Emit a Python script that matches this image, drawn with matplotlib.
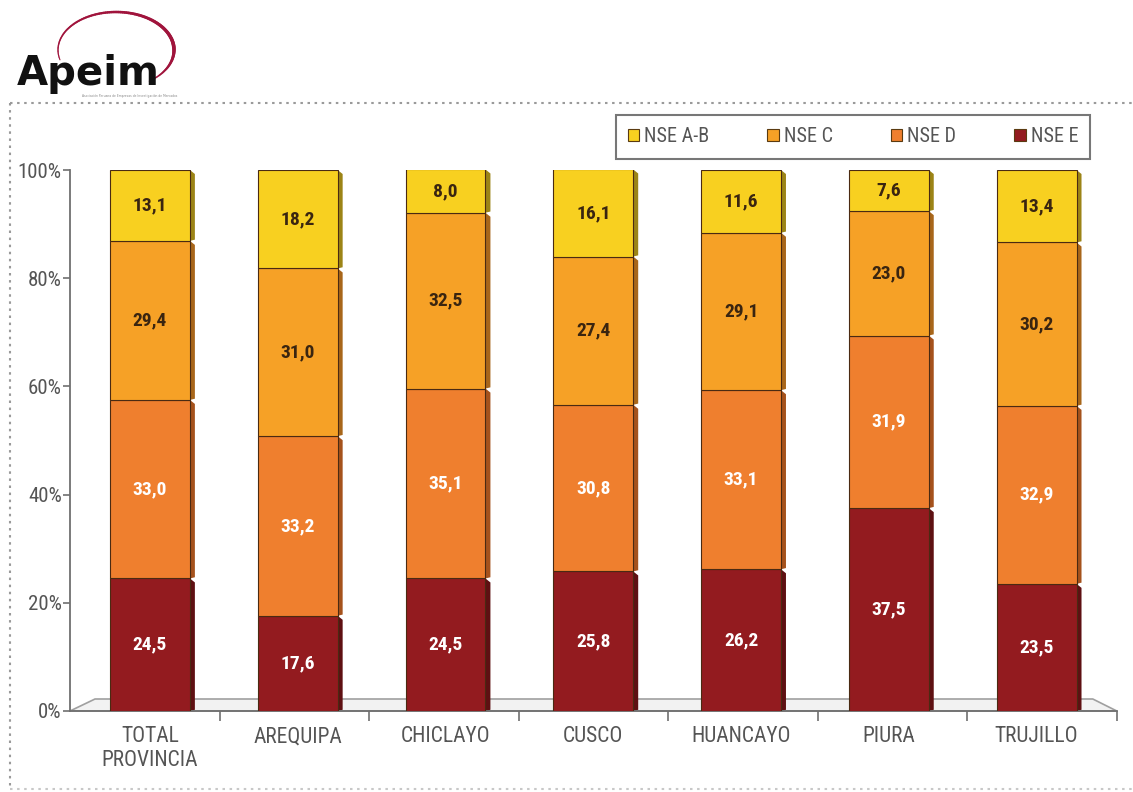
import matplotlib
matplotlib.use("Agg")
import matplotlib.pyplot as plt
from matplotlib import font_manager as fm
from matplotlib.patches import Polygon, Patch
import numpy as np

categories = ["TOTAL\nPROVINCIA", "AREQUIPA", "CHICLAYO", "CUSCO", "HUANCAYO", "PIURA", "TRUJILLO"]
series_names = ["NSE A-B", "NSE C", "NSE D", "NSE E"]
nse_ab = [13.1, 18.2, 8.0, 16.1, 11.6, 7.6, 13.4]
nse_c = [29.4, 31.0, 32.5, 27.4, 29.1, 23.0, 30.2]
nse_d = [33.0, 33.2, 35.1, 30.8, 33.1, 31.9, 32.9]
nse_e = [24.5, 17.6, 24.5, 25.8, 26.2, 37.5, 23.5]
yticks = [0, 20, 40, 60, 80, 100]
ytick_labels = ["0%", "20%", "40%", "60%", "80%", "100%"]

names = {f.name for f in fm.fontManager.ttflist}
narrow = None
for cand in ["Liberation Sans Narrow", "Roboto Condensed", "DejaVu Sans Condensed", "Liberation Sans"]:
    if cand in names:
        narrow = cand
        break
if narrow is None:
    narrow = "DejaVu Sans"
plt.rcParams["font.family"] = [narrow, "DejaVu Sans"]

W, H = 1133, 792
fig = plt.figure(figsize=(W / 100, H / 100), dpi=100)
fig.patch.set_facecolor("white")

# axes placement in pixel terms
x0_px, x1_px = 70, 1117
y0_px, y1_px = 711, 170
ax = fig.add_axes([x0_px / W, 1 - y0_px / H, (x1_px - x0_px) / W, (y0_px - y1_px) / H])
ax.set_facecolor("none")

spacing_px = 147.8
c0_px = 150
xlim_left = -(c0_px - x0_px) / spacing_px
xlim_right = (x1_px - c0_px) / spacing_px
ax.set_xlim(xlim_left, xlim_right)
ax.set_ylim(0, 100)

x = np.arange(len(categories))
width = 0.54

colors = {"NSE A-B": "#F8D020", "NSE C": "#F6A126", "NSE D": "#EF7F2E", "NSE E": "#931B1F"}
side_colors = {"NSE A-B": "#9C8416", "NSE C": "#A8661A", "NSE D": "#A5521C", "NSE E": "#5E1012"}
text_colors = {"NSE A-B": "#3A2510", "NSE C": "#3A2510", "NSE D": "white", "NSE E": "white"}
order = [("NSE E", nse_e), ("NSE D", nse_d), ("NSE C", nse_c), ("NSE A-B", nse_ab)]

# floor (3D base)
px_x = (xlim_right - xlim_left) / (x1_px - x0_px)  # data per px (x)
px_y = 100 / (y0_px - y1_px)  # data per px (y)
floor = Polygon([(xlim_left, 0), (xlim_left + 25 * px_x, 12 * px_y),
                 (xlim_right - 24 * px_x, 12 * px_y), (xlim_right, 0)],
                closed=True, facecolor="#F2F2F2", edgecolor="#A0A0A0", lw=1.2,
                zorder=1, clip_on=False)
ax.add_patch(floor)

dx = 5 * px_x
dy = 4 * px_y
bottoms = np.zeros(len(categories))
for name, vals in order:
    vals = np.array(vals)
    ax.bar(x, vals, width, bottom=bottoms, color=colors[name], edgecolor="#4A2A12",
           linewidth=0.8, zorder=3)
    for i in range(len(x)):
        xr = x[i] + width / 2
        b = bottoms[i]
        t = b + vals[i]
        side = Polygon([(xr, b), (xr + dx, b + dy * 0.3), (xr + dx, t - dy), (xr, t)],
                       closed=True, facecolor=side_colors[name], edgecolor="none", zorder=2)
        ax.add_patch(side)
        ax.text(x[i], b + vals[i] / 2, f"{vals[i]:.1f}".replace(".", ","),
                ha="center", va="center", fontsize=14, fontweight="bold",
                color=text_colors[name], zorder=4)
    bottoms = bottoms + vals

# axes styling
for s in ["top", "right"]:
    ax.spines[s].set_visible(False)
ax.spines["left"].set_color("#707070")
ax.spines["bottom"].set_color("#707070")
ax.spines["left"].set_linewidth(1.3)
ax.spines["bottom"].set_linewidth(1.3)
ax.set_yticks(yticks)
ax.set_yticklabels(ytick_labels, fontsize=15, color="#555555")
ax.tick_params(axis="y", length=5, color="#707070", width=1.2, pad=1)
ax.set_xticks(x)
ax.set_xticklabels(categories, fontsize=15.5, color="#555555", linespacing=1.15)
ax.tick_params(axis="x", length=0, pad=11)
boundary_px = [219.6 + k * 149.6 for k in range(7)]
ax.set_xticks([(p - c0_px) / spacing_px for p in boundary_px], minor=True)
ax.tick_params(axis="x", which="minor", length=7, color="#707070", width=1.2, direction="out")

# legend
handles = [Patch(facecolor=colors[n], edgecolor="#5A3A10", linewidth=0.8) for n in series_names]
leg = fig.legend(handles, series_names, loc="center",
                 bbox_to_anchor=(853 / W, 1 - 137 / H), ncol=4, fontsize=14.5,
                 handlelength=0.55, handleheight=0.55, handletextpad=0.25,
                 columnspacing=2.9, borderpad=0.6, frameon=True, fancybox=False,
                 labelcolor="#555555")
leg.get_frame().set_edgecolor("#555555")
leg.get_frame().set_linewidth(1.5)

# outer dotted frame
frame_ax = fig.add_axes([0, 0, 1, 1], zorder=-1)
frame_ax.set_xlim(0, W)
frame_ax.set_ylim(H, 0)
frame_ax.axis("off")
frame_ax.plot([10, 1133], [103, 103], ls=(0, (1.2, 2.2)), color="#9A9A9A", lw=1.5)
frame_ax.plot([10, 10], [103, 790], ls=(0, (1.2, 2.2)), color="#9A9A9A", lw=1.5)
frame_ax.plot([10, 1133], [789, 789], ls=(0, (1.2, 2.2)), color="#C8C8C8", lw=1.5)

# logo (decorative swoosh)
tt = np.radians(np.linspace(195, -55, 120))
lw_arc = np.linspace(0.8, 3.2, 120)
ex = 116 + 58 * np.cos(tt)
ey = 50 - 38 * np.sin(tt) - 8 * np.cos(tt) * 0.0
for k in range(len(tt) - 1):
    frame_ax.plot(ex[k:k + 2], ey[k:k + 2], color="#A0143C", lw=lw_arc[k] if k < 90 else lw_arc[89] * (1 - (k - 90) / 40),
                  solid_capstyle="round", zorder=1)
frame_ax.text(17, 85, "Apeim", fontsize=29, fontweight="bold", color="#111111",
              family="DejaVu Sans", va="baseline", ha="left", zorder=2)
frame_ax.text(82, 96, "Asociación Peruana de Empresas de Investigación de Mercados",
              fontsize=2.2, color="#888888", va="center", ha="left", family="DejaVu Sans")

fig.savefig("out.png", dpi=100, facecolor="white")
